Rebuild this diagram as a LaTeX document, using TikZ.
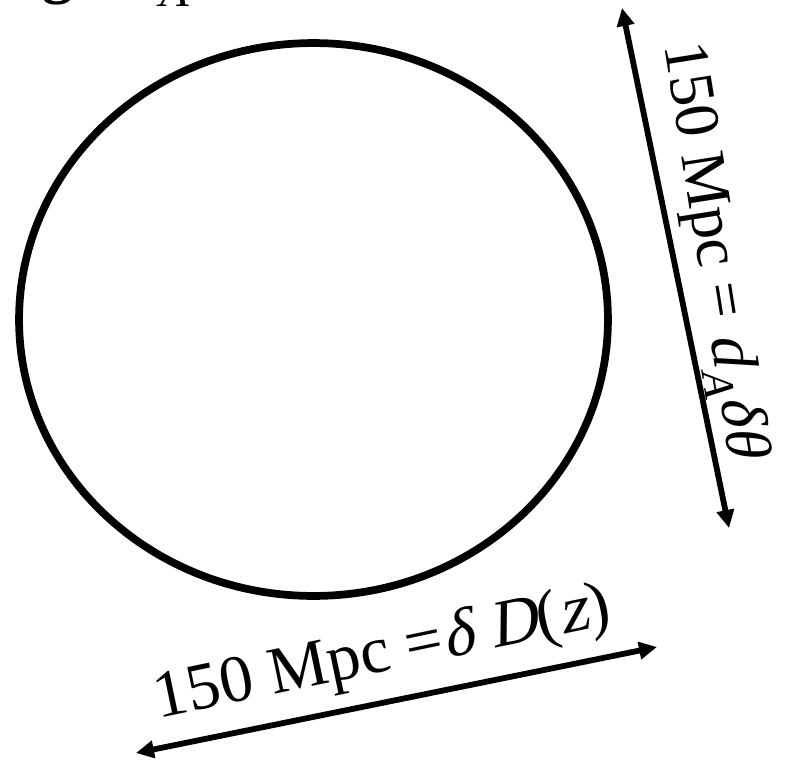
\documentclass[tikz,border=0pt]{standalone}
\usepackage{fontspec}
\setmainfont{Liberation Serif}[ItalicFont={Liberation Serif}, ItalicFeatures={FakeSlant=0.22}]
\usetikzlibrary{arrows.meta, shapes.geometric}
\tikzset{
  shell/.style={line width=4.4pt, draw=black},
  scalearrow/.style={<->, line width=3.3pt, draw=black, >={Triangle[length=0.36cm, width=0.34cm]}},
  scalelabel/.style={font=\fontsize{38}{44}\selectfont, inner sep=0pt, anchor=base},
  cutlabel/.style={inner sep=0pt, anchor=base}
}
\newcommand{\subA}{\raisebox{-0.22em}{\fontsize{25}{25}\selectfont\itshape A}}

\begin{document}
\begin{tikzpicture}[x=0.02cm, y=-0.02cm]
  \useasboundingbox (0,0) rectangle (792,761);
  \clip (0,0) rectangle (792,761);

  % cut-off caption at the top edge
  \node[cutlabel, font=\fontsize{35}{42}\selectfont\bfseries] (capg) at (58,-9) {g};
  \node[cutlabel, font=\fontsize{26}{26}\selectfont\itshape] (capa) at (173,6) {A};

  % the sphere
  \node[shell, ellipse, minimum width=11.78cm, minimum height=11.06cm, inner sep=0pt] (sphere) at (313.5,319.5) {};

  % ends of the two scale arrows
  \coordinate (perpTop) at (622,8);
  \coordinate (perpBot) at (729,528);
  \coordinate (losLeft) at (136,753);
  \coordinate (losRight) at (657,647);

  \draw[scalearrow] (perpTop) -- (perpBot);
  \draw[scalearrow] (losLeft) -- (losRight);

  \node[scalelabel, font=\fontsize{36}{42}\selectfont, rotate=-81] (perp) at (697,252) {150 Mpc = \textit{d}\subA\textit{δθ}};
  \node[scalelabel, rotate=11.8] (los) at (386,671) {150 Mpc =\textit{δ} \textit{D}(\textit{z})};
\end{tikzpicture}
\end{document}
